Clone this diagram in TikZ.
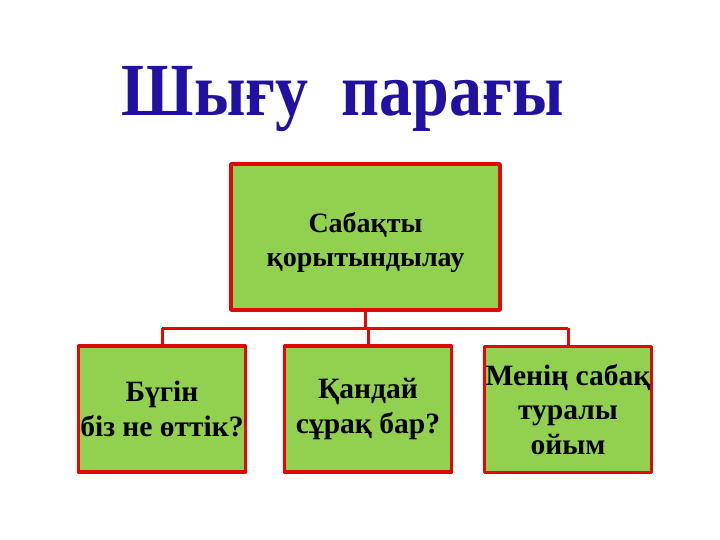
\documentclass[tikz,border=0pt]{standalone}
\usepackage{fontspec}
\setmainfont{Liberation Serif}
\definecolor{leafgreen}{RGB}{146,208,80}
\definecolor{boxred}{RGB}{226,8,8}
\definecolor{titleblue}{RGB}{34,16,160}
\newcommand{\lowstrut}{\rule{0pt}{31pt}}

\begin{document}
\begin{tikzpicture}[x=1pt,y=-1pt,line join=round,
    box/.style={draw=boxred,fill=leafgreen,line width=3.4pt,align=center,inner sep=0pt},
    rootbox/.style={box,minimum width=269pt,minimum height=146pt,font=\bfseries\fontsize{28}{34}\selectfont},
    leafbox/.style={box,minimum width=167pt,minimum height=126pt,font=\bfseries\fontsize{29.5}{34.5}\selectfont},
    link/.style={draw=boxred,line width=3pt}]
  \useasboundingbox (0,0) rectangle (720,540);
  % title
  \node[anchor=base,xscale=0.88,transform shape,text=titleblue,font=\bfseries\fontsize{75}{80}\selectfont] (title) at (343,116) {Шығу\ \ парағы};
  % boxes
  \node[rootbox] (root) at (365.5,237) {\lowstrut Сабақты\\қорытындылау};
  \node[leafbox] (left) at (162,409) {Бүгін\\біз не өттік?};
  \node[leafbox] (mid) at (368,409) {Қандай\\сұрақ бар?};
  \node[leafbox] (right) at (568,409.5) {Менің сабақ\\туралы\\ойым};
  % links
  \coordinate (bar) at (366,328);
  \draw[link] (root.south) -- (root.south |- bar);
  \draw[link] (left.north |- bar) -- (right.north |- bar);
  \foreach \k in {left,mid,right}
    \draw[link] (\k.north |- bar) -- (\k.north);
\end{tikzpicture}
\end{document}
